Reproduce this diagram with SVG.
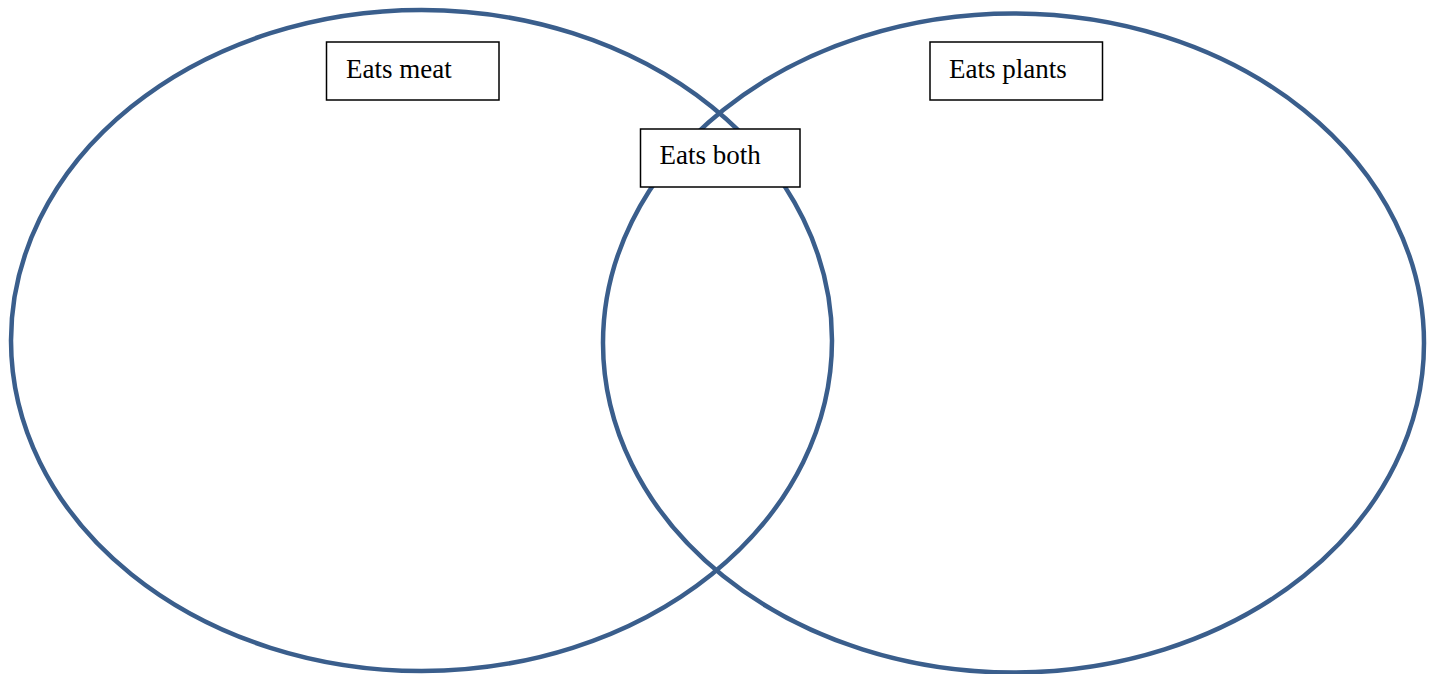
<svg xmlns="http://www.w3.org/2000/svg" width="1432" height="674" viewBox="0 0 1432 674">
<style>
.set{fill:none;stroke:#3a5e8c;stroke-width:4.5}
.box{fill:#fff;stroke:#000;stroke-width:1.5}
.lbl{font-family:"Liberation Serif","Times New Roman",serif;font-size:27px;fill:#000}
</style>
<rect width="1432" height="674" fill="#fff"/>
<g id="set-meat"><ellipse class="set" cx="421.5" cy="340.5" rx="410.5" ry="330.5"/></g>
<g id="set-plants"><ellipse class="set" cx="1013.5" cy="343" rx="410.5" ry="329.5"/></g>
<g id="label-meat"><rect class="box" x="326.5" y="42" width="172.5" height="58"/><text class="lbl" x="346" y="78">Eats meat</text></g>
<g id="label-plants"><rect class="box" x="930" y="42" width="172.5" height="58"/><text class="lbl" x="949" y="78">Eats plants</text></g>
<g id="label-both"><rect class="box" x="640.5" y="129" width="159.5" height="58"/><text class="lbl" x="659.5" y="164">Eats both</text></g>
<g id="connectors"/>
</svg>
